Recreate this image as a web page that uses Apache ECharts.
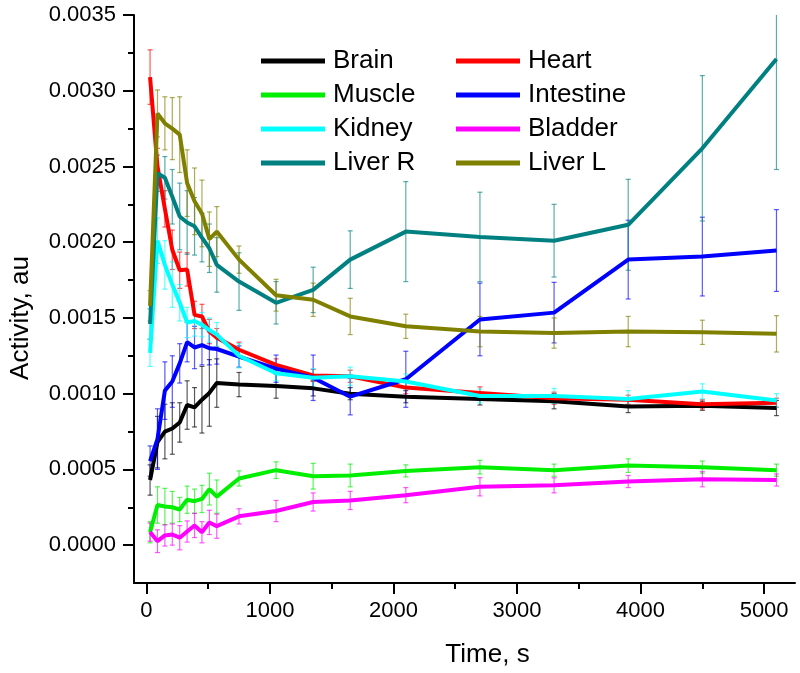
<!DOCTYPE html>
<html>
<head>
<meta charset="utf-8">
<script src="https://cdn.jsdelivr.net/npm/echarts@6/dist/echarts.min.js"></script>
<style>html,body{margin:0;padding:0;background:#fff}#chart{width:800px;height:673px}</style>
</head>
<body>
<div id="chart"></div>
<script>
// ---- data ----
const time = [30, 90, 150, 210, 270, 330, 390, 450, 510, 570, 750, 1050, 1350, 1650, 2100, 2700, 3300, 3900, 4500, 5100];

const brain     = [4.3e-4, 6.8e-4, 7.5e-4, 7.7e-4, 8.1e-4, 9.25e-4, 9.1e-4, 9.6e-4, 10.05e-4, 10.7e-4, 10.6e-4, 10.5e-4, 10.35e-4, 10.0e-4, 9.8e-4, 9.65e-4, 9.5e-4, 9.15e-4, 9.2e-4, 9.05e-4];
const brainErr  = [1.0e-4, 1.7e-4, 1.8e-4, 1.7e-4, 1.3e-4, 1.6e-4, 1.3e-4, 2.2e-4, 2.2e-4, 1.6e-4, 0.8e-4, 0.8e-4, 0.5e-4, 0.4e-4, 0.4e-4, 0.4e-4, 0.5e-4, 0.4e-4, 0.3e-4, 0.5e-4];

const heart     = [30.9e-4, 25.0e-4, 22.2e-4, 19.5e-4, 18.15e-4, 18.2e-4, 15.2e-4, 15.1e-4, 14.1e-4, 13.7e-4, 12.9e-4, 11.9e-4, 11.2e-4, 11.15e-4, 10.4e-4, 10.05e-4, 9.7e-4, 9.6e-4, 9.3e-4, 9.4e-4];
const heartErr  = [1.8e-4, 1.2e-4, 1.2e-4, 1.3e-4, 1.2e-4, 1.1e-4, 0.9e-4, 0.8e-4, 0.8e-4, 0.6e-4, 0.5e-4, 0.4e-4, 0.4e-4, 0.4e-4, 0.4e-4, 0.4e-4, 0.4e-4, 0.3e-4, 0.3e-4, 0.3e-4];

const muscle    = [0.85e-4, 2.65e-4, 2.55e-4, 2.5e-4, 2.35e-4, 3.0e-4, 2.9e-4, 3.05e-4, 3.7e-4, 3.2e-4, 4.4e-4, 4.95e-4, 4.55e-4, 4.6e-4, 4.9e-4, 5.15e-4, 4.95e-4, 5.25e-4, 5.15e-4, 4.95e-4];
const muscleErr = [0.7e-4, 1.2e-4, 1.2e-4, 1.05e-4, 0.8e-4, 0.9e-4, 0.8e-4, 0.9e-4, 1.05e-4, 1.1e-4, 0.5e-4, 0.55e-4, 0.85e-4, 0.75e-4, 0.4e-4, 0.45e-4, 0.4e-4, 0.45e-4, 0.4e-4, 0.4e-4];

const intestine    = [5.55e-4, 7.0e-4, 10.2e-4, 10.8e-4, 12.0e-4, 13.4e-4, 13.05e-4, 13.2e-4, 13.0e-4, 12.95e-4, 12.45e-4, 11.65e-4, 11.05e-4, 9.8e-4, 10.95e-4, 14.9e-4, 15.35e-4, 18.85e-4, 19.05e-4, 19.45e-4];
const intestineErr = [1.0e-4, 2.0e-4, 1.9e-4, 1.7e-4, 1.3e-4, 1.3e-4, 1.4e-4, 1.3e-4, 1.1e-4, 1.0e-4, 0.7e-4, 0.9e-4, 1.5e-4, 1.2e-4, 1.85e-4, 2.4e-4, 2.0e-4, 2.6e-4, 2.6e-4, 2.7e-4];

const kidney    = [12.7e-4, 20.1e-4, 18.5e-4, 17.2e-4, 16.0e-4, 14.7e-4, 14.8e-4, 14.55e-4, 14.2e-4, 13.9e-4, 12.5e-4, 11.35e-4, 11.05e-4, 11.15e-4, 10.8e-4, 9.85e-4, 9.85e-4, 9.65e-4, 10.15e-4, 9.55e-4];
const kidneyErr = [0.9e-4, 1.5e-4, 1.6e-4, 1.5e-4, 1.2e-4, 1.0e-4, 1.0e-4, 0.8e-4, 0.8e-4, 0.8e-4, 0.8e-4, 0.5e-4, 0.6e-4, 0.6e-4, 0.5e-4, 0.45e-4, 0.5e-4, 0.55e-4, 0.5e-4, 0.45e-4];

const bladder    = [0.86e-4, 0.26e-4, 0.64e-4, 0.7e-4, 0.49e-4, 0.9e-4, 1.3e-4, 0.85e-4, 1.5e-4, 1.25e-4, 1.9e-4, 2.25e-4, 2.85e-4, 2.95e-4, 3.3e-4, 3.85e-4, 3.95e-4, 4.2e-4, 4.35e-4, 4.3e-4];
const bladderErr = [0.6e-4, 0.75e-4, 0.7e-4, 0.7e-4, 0.8e-4, 0.7e-4, 0.8e-4, 0.7e-4, 0.8e-4, 0.8e-4, 0.5e-4, 0.7e-4, 0.6e-4, 0.6e-4, 0.5e-4, 0.6e-4, 0.5e-4, 0.4e-4, 0.5e-4, 0.4e-4];

const liverR    = [14.6e-4, 24.55e-4, 24.25e-4, 23.0e-4, 21.7e-4, 21.3e-4, 21.05e-4, 20.3e-4, 19.6e-4, 18.5e-4, 17.4e-4, 16.0e-4, 16.85e-4, 18.85e-4, 20.7e-4, 20.35e-4, 20.1e-4, 21.15e-4, 26.2e-4, 32.1e-4];
const liverRErr = [1.0e-4, 1.2e-4, 1.4e-4, 1.8e-4, 2.2e-4, 2.1e-4, 1.9e-4, 1.6e-4, 1.6e-4, 1.8e-4, 1.9e-4, 1.4e-4, 1.5e-4, 1.9e-4, 3.3e-4, 2.95e-4, 2.4e-4, 3.0e-4, 4.8e-4, 7.3e-4];

const liverL    = [15.8e-4, 28.5e-4, 27.85e-4, 27.5e-4, 27.1e-4, 23.9e-4, 22.7e-4, 21.9e-4, 20.2e-4, 20.7e-4, 18.85e-4, 16.5e-4, 16.2e-4, 15.1e-4, 14.45e-4, 14.1e-4, 14.0e-4, 14.1e-4, 14.05e-4, 13.95e-4];
const liverLErr = [1.0e-4, 1.55e-4, 1.75e-4, 2.05e-4, 2.5e-4, 2.2e-4, 2.2e-4, 2.2e-4, 1.8e-4, 1.65e-4, 0.9e-4, 1.05e-4, 1.1e-4, 1.2e-4, 0.8e-4, 1.0e-4, 1.0e-4, 1.0e-4, 0.8e-4, 1.2e-4];

const seriesNames  = ['Brain', 'Heart', 'Muscle', 'Intestine', 'Kidney', 'Bladder', 'Liver R', 'Liver L'];
const legendCol1   = ['Brain', 'Muscle', 'Kidney', 'Liver R'];
const legendCol2   = ['Heart', 'Intestine', 'Bladder', 'Liver L'];

const xMajorTicks = [0, 1000, 2000, 3000, 4000, 5000];
const xMinorTicks = [500, 1500, 2500, 3500, 4500];
const yMajorTicks = [0, 0.0005, 0.001, 0.0015, 0.002, 0.0025, 0.003, 0.0035];
const yMinorTicks = [0.00025, 0.00075, 0.00125, 0.00175, 0.00225, 0.00275, 0.00325];

// ---- styling ----
const colors = {
  'Brain': '#000000', 'Heart': '#ff0000', 'Muscle': '#00ee00', 'Intestine': '#0000ff',
  'Kidney': '#00ffff', 'Bladder': '#ff00ff', 'Liver R': '#008080', 'Liver L': '#808000'
};
const values = {
  'Brain': [brain, brainErr], 'Heart': [heart, heartErr], 'Muscle': [muscle, muscleErr],
  'Intestine': [intestine, intestineErr], 'Kidney': [kidney, kidneyErr], 'Bladder': [bladder, bladderErr],
  'Liver R': [liverR, liverRErr], 'Liver L': [liverL, liverLErr]
};
const FONT = '"Liberation Sans", Arial, sans-serif';

function errRender(color) {
  return function (params, api) {
    const x = api.value(0);
    const p1 = api.coord([x, api.value(2)]);
    const p2 = api.coord([x, api.value(1)]);
    const w = 2.5;
    const style = { stroke: color, lineWidth: 1.2, opacity: 0.65 };
    return {
      type: 'group',
      children: [
        { type: 'line', shape: { x1: p1[0], y1: p1[1], x2: p2[0], y2: p2[1] }, style: style },
        { type: 'line', shape: { x1: p1[0] - w, y1: p1[1], x2: p1[0] + w, y2: p1[1] }, style: style },
        { type: 'line', shape: { x1: p2[0] - w, y1: p2[1], x2: p2[0] + w, y2: p2[1] }, style: style }
      ]
    };
  };
}

const series = [];
seriesNames.forEach(function (name) {
  const v = values[name][0], e = values[name][1];
  series.push({
    name: name + ' error',
    type: 'custom',
    renderItem: errRender(colors[name]),
    clip: true,
    z: 2,
    silent: true,
    data: time.map(function (t, i) { return [t, v[i] - e[i], v[i] + e[i]]; })
  });
});
seriesNames.forEach(function (name) {
  const v = values[name][0];
  series.push({
    name: name,
    type: 'line',
    symbol: 'none',
    z: 3,
    color: colors[name],
    lineStyle: { width: 4, color: colors[name] },
    data: time.map(function (t, i) { return [t, v[i]]; })
  });
});

const legendCommon = {
  orient: 'vertical', top: 48, padding: 0, itemGap: 8,
  itemWidth: 64, itemHeight: 5, icon: 'rect', selectedMode: false,
  textStyle: { fontSize: 26, fontFamily: FONT, color: '#000', lineHeight: 26, padding: [0, 0, 0, 3] }
};

const option = {
  animation: false,
  backgroundColor: '#ffffff',
  textStyle: { fontFamily: FONT },
  grid: { left: 131, right: 5, top: 15, bottom: 89.7, containLabel: false },
  legend: [
    Object.assign({}, legendCommon, { left: 261, data: legendCol1 }),
    Object.assign({}, legendCommon, { left: 456, data: legendCol2 })
  ],
  xAxis: [
    {
      type: 'value', min: -100, max: 5250,
      name: 'Time, s', nameLocation: 'middle', nameGap: 59,
      nameTextStyle: { fontSize: 26, color: '#000', fontFamily: FONT, padding: [0, 0, 0, 46] },
      axisLine: { show: true, onZero: false, lineStyle: { color: '#000', width: 2 } },
      axisTick: { show: true, inside: false, length: 11, customValues: xMajorTicks, lineStyle: { color: '#000', width: 2 } },
      axisLabel: {
        show: true, fontSize: 22, color: '#000', margin: 17, fontFamily: FONT, customValues: xMajorTicks,
        formatter: function (v) { return String(v); }
      },
      splitLine: { show: false }
    },
    {
      type: 'value', min: -100, max: 5250, position: 'bottom',
      axisLine: { show: false, onZero: false },
      axisTick: { show: true, inside: false, length: 6, customValues: xMinorTicks, lineStyle: { color: '#000', width: 2 } },
      axisLabel: { show: false },
      splitLine: { show: false }
    }
  ],
  yAxis: [
    {
      type: 'value', min: -0.00025, max: 0.0035,
      name: 'Activity, au', nameLocation: 'middle', nameGap: 100,
      nameTextStyle: { fontSize: 26, color: '#000', fontFamily: FONT, padding: [0, 38, 0, 0] },
      axisLine: { show: true, onZero: false, lineStyle: { color: '#000', width: 2 } },
      axisTick: { show: true, inside: false, length: 11, customValues: yMajorTicks, lineStyle: { color: '#000', width: 2 } },
      axisLabel: {
        show: true, fontSize: 22, color: '#000', margin: 18, fontFamily: FONT, customValues: yMajorTicks,
        formatter: function (v) { return v.toFixed(4); }
      },
      splitLine: { show: false }
    },
    {
      type: 'value', min: -0.00025, max: 0.0035, position: 'left',
      axisLine: { show: false, onZero: false },
      axisTick: { show: true, inside: false, length: 6, customValues: yMinorTicks, lineStyle: { color: '#000', width: 2 } },
      axisLabel: { show: false },
      splitLine: { show: false }
    }
  ],
  series: series
};

const chart = echarts.init(document.getElementById('chart'), null, { renderer: 'canvas' });
chart.setOption(option);
</script>
</body>
</html>
